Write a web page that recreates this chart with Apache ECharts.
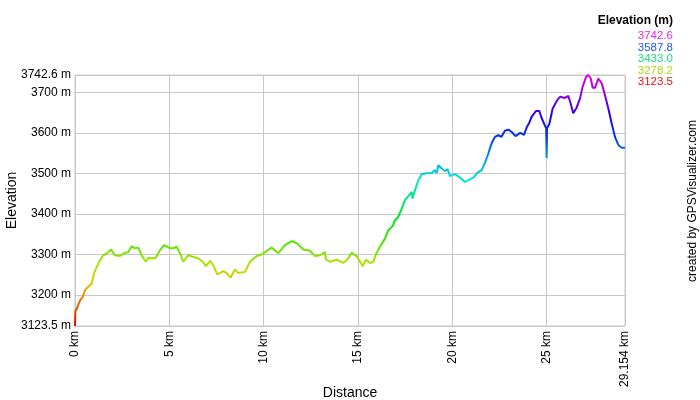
<!DOCTYPE html>
<html>
<head>
<meta charset="utf-8">
<script src="https://cdn.jsdelivr.net/npm/echarts@6/dist/echarts.min.js"></script>
<style>
html,body{margin:0;padding:0;background:#fff;}
#chart{width:700px;height:400px;}
</style>
</head>
<body>
<div id="chart"></div>
<script>
// Distance along track (km)
const distKm = [
  0, 0.02, 0.09, 0.27, 0.41, 0.53, 0.71, 0.88, 1.01, 1.15, 1.33, 1.5, 1.68, 1.91,
  2.12, 2.39, 2.56, 2.83, 3.0, 3.18, 3.36, 3.53, 3.76, 3.89, 4.06, 4.29, 4.5, 4.72,
  4.89, 5.04, 5.21, 5.39, 5.57, 5.74, 6.0, 6.27, 6.54, 6.77, 6.94, 7.16, 7.33, 7.54,
  7.86, 8.04, 8.25, 8.48, 8.66, 9.01, 9.28, 9.63, 9.9, 10.0, 10.2, 10.42, 10.6, 10.78,
  11.13, 11.49, 11.75, 12.1, 12.46, 12.72, 12.99, 13.25, 13.28, 13.3, 13.52, 13.87,
  14.22, 14.43, 14.67, 14.93, 15.11, 15.25, 15.42, 15.64, 15.81, 15.95, 16.1, 16.26,
  16.43, 16.61, 16.84, 16.96, 17.14, 17.32, 17.49, 17.67, 17.85, 17.9, 17.93, 18.02,
  18.2, 18.38, 18.64, 18.91, 19.08, 19.17, 19.26, 19.44, 19.61, 19.75, 19.88, 20.14,
  20.37, 20.67, 20.94, 21.15, 21.32, 21.56, 21.73, 21.91, 22.09, 22.26, 22.44, 22.6,
  22.79, 22.97, 23.15, 23.35, 23.6, 23.8, 23.94, 24.08, 24.21, 24.44, 24.61, 24.74,
  24.88, 24.98, 25.0, 25.02, 25.14, 25.32, 25.53, 25.71, 25.97, 26.15, 26.27, 26.41,
  26.59, 26.77, 26.91, 27.09, 27.21, 27.34, 27.44, 27.56, 27.74, 27.92, 28.09, 28.27,
  28.45, 28.62, 28.8, 28.98, 29.154
];
// Elevation (m)
const elevM = [
  3123.5, 3160, 3166, 3187, 3195, 3212, 3221, 3228, 3253, 3269, 3286, 3298, 3302, 3312,
  3298, 3296, 3302, 3306, 3320, 3315, 3317, 3298, 3282, 3292, 3290, 3292, 3310, 3323,
  3319, 3315, 3315, 3319, 3302, 3282, 3298, 3294, 3290, 3282, 3271, 3284, 3273, 3251,
  3259, 3254, 3243, 3263, 3254, 3257, 3282, 3296, 3300, 3303, 3310, 3317, 3310, 3303,
  3323, 3333, 3328, 3312, 3309, 3296, 3298, 3306, 3306, 3288, 3282, 3287,
  3279, 3287, 3304, 3296, 3282, 3271, 3287, 3279, 3282, 3300, 3314, 3326,
  3339, 3360, 3370, 3384, 3393, 3413, 3434, 3444, 3454, 3438, 3445, 3458,
  3483, 3498, 3500, 3501, 3508, 3500, 3520, 3512, 3506, 3510, 3493, 3498,
  3491, 3479, 3485, 3491, 3501, 3508, 3526, 3549, 3575, 3590, 3594, 3590,
  3605, 3608, 3602, 3592, 3600, 3595, 3613, 3625, 3640, 3654, 3654, 3636,
  3621, 3611, 3538, 3611, 3621, 3660, 3678, 3689, 3686, 3691, 3673, 3648,
  3662, 3685, 3714, 3738, 3742.6, 3734, 3711, 3711, 3734, 3722, 3693, 3660,
  3623, 3590, 3570, 3563, 3563
];
// Axis ticks
const xTicks = [0, 5, 10, 15, 20, 25, 29.154];
const yTicks = [3123.5, 3200, 3300, 3400, 3500, 3600, 3700, 3742.6];
// Colour legend values (top to bottom)
const legendValues = ['3742.6', '3587.8', '3433.0', '3278.2', '3123.5'];
const legendColors = ['#ee22ee', '#2255ff', '#22dd77', '#aadd11', '#ee1111'];
const gradientColors = ['#e60000', '#e66000', '#e6c000', '#ace600', '#4de600', '#00e613',
  '#00e673', '#00e6d3', '#0099e6', '#003ae6', '#2600e6', '#8600e6', '#e600e6'];

const yMin = 3123.5, yMax = 3742.6, xMax = 29.154;
const FONT = '"Liberation Sans", Arial, sans-serif';

const seriesData = distKm.map((d, i) => [d, elevM[i]]);

const legendGraphics = [{
  type: 'text', right: 27, top: 15,
  style: { text: 'Elevation (m)', font: 'bold 12px ' + FONT, fill: '#000' }
}];
legendValues.forEach((v, i) => {
  legendGraphics.push({
    type: 'text', right: 27, top: 30 + i * 11.5,
    style: { text: v, font: '11.5px ' + FONT, fill: legendColors[i] }
  });
});
legendGraphics.push({
  type: 'text', x: 699, y: 201, rotation: Math.PI / 2,
  style: { text: 'created by GPSVisualizer.com', font: '12px ' + FONT, fill: '#000',
    align: 'center', verticalAlign: 'bottom' }
});

const chart = echarts.init(document.getElementById('chart'), null, { renderer: 'canvas' });
chart.setOption({
  animation: false,
  backgroundColor: '#fff',
  grid: { left: 75, right: 75, top: 75, bottom: 74, show: true, borderColor: '#c8c8c8', borderWidth: 1,
    containLabel: false, outerBoundsMode: 'none' },
  xAxis: {
    type: 'value', min: 0, max: xMax,
    name: 'Distance', nameLocation: 'middle', nameGap: 60, nameMoveOverlap: false,
    nameTextStyle: { fontFamily: FONT, fontSize: 14, color: '#000' },
    axisLine: { show: false },
    axisTick: { show: false, customValues: xTicks },
    axisLabel: { customValues: xTicks, rotate: 90, margin: 5, fontFamily: FONT, fontSize: 12, color: '#000',
      formatter: v => v + ' km' },
    splitLine: { show: true, lineStyle: { color: '#c8c8c8', width: 1 } }
  },
  yAxis: {
    type: 'value', min: yMin, max: yMax,
    name: 'Elevation', nameLocation: 'middle', nameGap: 56, nameMoveOverlap: false,
    nameTextStyle: { fontFamily: FONT, fontSize: 14, color: '#000' },
    axisLine: { show: false },
    axisTick: { show: false, customValues: yTicks },
    axisLabel: { customValues: yTicks, margin: 4, fontFamily: FONT, fontSize: 12, color: '#000',
      formatter: v => v + ' m' },
    splitLine: { show: true, lineStyle: { color: '#c8c8c8', width: 1 } }
  },
  visualMap: {
    show: false, type: 'continuous', dimension: 1, min: yMin, max: yMax,
    inRange: { color: gradientColors }
  },
  series: [{
    type: 'line', data: seriesData, showSymbol: false, symbol: 'none',
    lineStyle: { width: 2 }
  }],
  graphic: legendGraphics
});
</script>
</body>
</html>
